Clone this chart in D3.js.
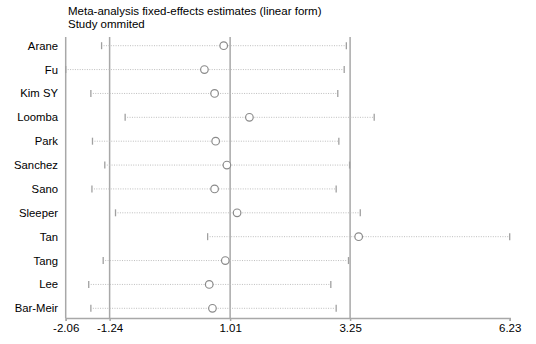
<!DOCTYPE html>
<html>
<head>
<meta charset="utf-8">
<script src="https://cdn.jsdelivr.net/npm/d3@7"></script>
<style>
  html, body { margin: 0; padding: 0; background: #fff; }
  svg { display: block; font-family: Arial, "Liberation Sans", sans-serif; }
</style>
</head>
<body>
<svg id="chart" width="536" height="344"></svg>
<script>
const studies = ["Arane","Fu","Kim SY","Loomba","Park","Sanchez","Sano","Sleeper","Tan","Tang","Lee","Bar-Meir"];
const estimate = [0.89, 0.53, 0.72, 1.37, 0.74, 0.95, 0.72, 1.14, 3.41, 0.92, 0.62, 0.68];
const lower    = [-1.39, -2.06, -1.59, -0.95, -1.56, -1.33, -1.57, -1.13, 0.59, -1.36, -1.63, -1.59];
const upper    = [3.18, 3.14, 3.02, 3.70, 3.04, 3.24, 2.99, 3.44, 6.23, 3.22, 2.89, 2.99];
const tickValues = [-2.06, -1.24, 1.01, 3.25, 6.23];
const refLines = [-1.24, 1.01, 3.25];
const titleLines = ["Meta-analysis fixed-effects estimates (linear form)", "Study ommited"];

const svg = d3.select("#chart");

const x = d3.scaleLinear().domain([-2.06, 6.23]).range([65.7, 509.7]);
const y = d3.scalePoint().domain(studies).range([45.7, 308.3]);
const axisY = 318;

// Title
svg.selectAll("text.title").data(titleLines).join("text")
  .attr("class", "title")
  .attr("x", 68)
  .attr("y", (d, i) => 15 + i * 13)
  .attr("font-size", 11.5)
  .attr("fill", "#000")
  .text(d => d);

// Left axis line
svg.append("line")
  .attr("x1", x(-2.06)).attr("x2", x(-2.06))
  .attr("y1", 37).attr("y2", axisY)
  .attr("stroke", "#a8a8a8").attr("stroke-width", 1.5);

// Reference vertical lines
svg.selectAll("line.ref").data(refLines).join("line")
  .attr("class", "ref")
  .attr("x1", d => x(d)).attr("x2", d => x(d))
  .attr("y1", 37).attr("y2", axisY)
  .attr("stroke", "#a8a8a8").attr("stroke-width", 1.5);

const rows = studies.map((s, i) => ({s, est: estimate[i], lo: lower[i], hi: upper[i]}));

// CI dotted lines
svg.selectAll("line.ci").data(rows).join("line")
  .attr("class", "ci")
  .attr("x1", d => x(Math.max(d.lo, -2.06)) + 2).attr("x2", d => x(d.hi) - 1)
  .attr("y1", d => y(d.s)).attr("y2", d => y(d.s))
  .attr("stroke", "#bdbdbd").attr("stroke-width", 1)
  .attr("stroke-dasharray", "1,1.4");

// CI end caps
const caps = rows.flatMap(d => [{s: d.s, v: d.lo}, {s: d.s, v: d.hi}]);
svg.selectAll("line.cap").data(caps).join("line")
  .attr("class", "cap")
  .attr("x1", d => x(d.v)).attr("x2", d => x(d.v))
  .attr("y1", d => y(d.s) - 3.5).attr("y2", d => y(d.s) + 3.5)
  .attr("stroke", "#a0a0a0").attr("stroke-width", 1.3);

// Point estimates
svg.selectAll("circle.est").data(rows).join("circle")
  .attr("class", "est")
  .attr("cx", d => x(d.est)).attr("cy", d => y(d.s))
  .attr("r", 3.8)
  .attr("fill", "#fff").attr("stroke", "#8a8a8a").attr("stroke-width", 1.2);

// Study labels
svg.selectAll("text.study").data(studies).join("text")
  .attr("class", "study")
  .attr("x", 58).attr("y", d => y(d) + 4)
  .attr("text-anchor", "end")
  .attr("font-size", 11.3)
  .attr("fill", "#000")
  .text(d => d);

// Bottom axis
const axis = d3.axisBottom(x).tickValues(tickValues).tickFormat(d3.format(".2f")).tickSize(3).tickPadding(3);
const g = svg.append("g").attr("transform", `translate(0,${axisY})`).call(axis);
g.select(".domain").attr("stroke", "#a8a8a8").attr("stroke-width", 1.5);
g.selectAll(".tick line").attr("stroke", "#a8a8a8").attr("stroke-width", 1.5);
g.selectAll(".tick text").attr("font-size", 11.5).attr("fill", "#000")
  .attr("font-family", "Arial, 'Liberation Sans', sans-serif")
  .text(d => d3.format(".2f")(d).replace("−", "-"));
</script>
</body>
</html>
